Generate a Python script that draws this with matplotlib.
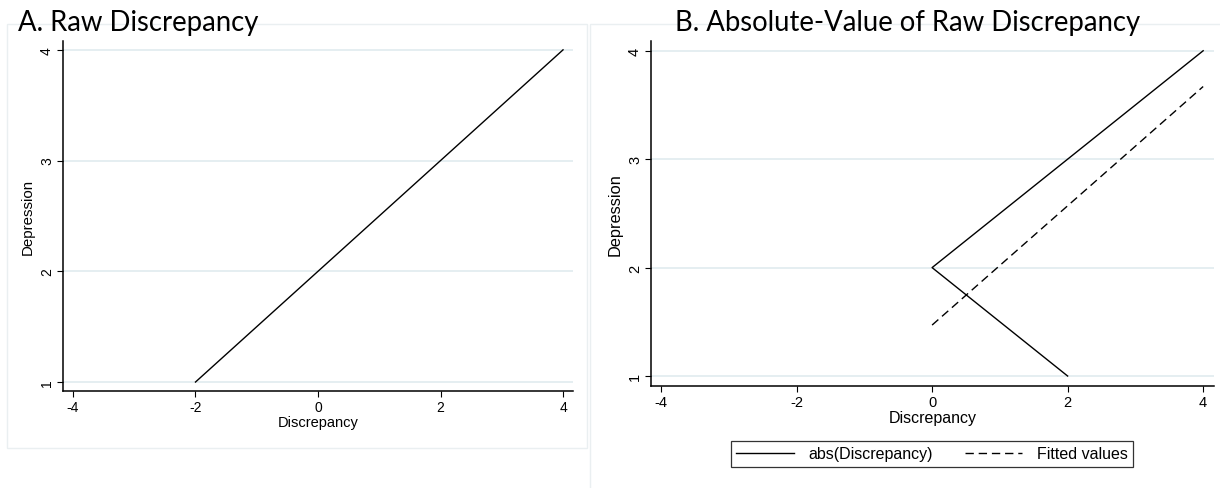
import matplotlib
matplotlib.use("Agg")
import matplotlib.pyplot as plt
from matplotlib.patches import Rectangle

# data
raw_x = [-2, 4]
raw_y = [1, 4]

abs_x = [2, 0, 4]          # abs(Discrepancy) for raw x = -2, 0, 4
abs_y = [1, 2, 4]
fit_x = [0, 4]
fit_y = [1.47, 3.67]

xticks = [-4, -2, 0, 2, 4]
yticks = [1, 2, 3, 4]

W, H = 1220, 489
plt.rcParams['font.family'] = ['Liberation Sans', 'DejaVu Sans']
fig = plt.figure(figsize=(W / 100, H / 100), dpi=100)

grid_col = '#e3edf0'
box_col = '#eaeff1'


def px_axes(l, t, r, b):
    return fig.add_axes([l / W, 1 - b / H, (r - l) / W, (b - t) / H])


def style(ax, xlim, ylim, fs_tick, fs_x, fs_y):
    ax.set_xlim(*xlim)
    ax.set_ylim(*ylim)
    ax.set_xticks(xticks)
    ax.set_yticks(yticks)
    ax.set_xticklabels([str(v) for v in xticks], fontsize=fs_tick)
    ax.set_yticklabels([str(v) for v in yticks], fontsize=fs_tick, rotation=90, va='center')
    for s in ['top', 'right']:
        ax.spines[s].set_visible(False)
    for s in ['left', 'bottom']:
        ax.spines[s].set_linewidth(1.1)
    ax.tick_params(direction='out', length=4.5, width=0.8, pad=2)
    ax.grid(axis='y', color=grid_col, lw=1.3)
    ax.set_axisbelow(True)
    ax.set_xlabel('Discrepancy', fontsize=fs_x, labelpad=1)
    ax.set_ylabel('Depression', fontsize=fs_y, labelpad=4)


# light panel frames
fig.patches.append(Rectangle((7 / W, 1 - 449 / H), 580 / W, 424 / H, transform=fig.transFigure,
                             fill=False, ec=box_col, lw=1))
fig.patches.append(Rectangle((590 / W, -0.01), 640 / W, 1 - 25 / H + 0.01, transform=fig.transFigure,
                             fill=False, ec=box_col, lw=1))

# panel A
ax1 = px_axes(63, 42, 573, 392)
style(ax1, (-4.163, 4.163), (0.919, 4.08), 10, 10.5, 10.8)
ax1.plot(raw_x, raw_y, color='black', lw=1)
fig.text(18 / W, 1 - 31 / H, 'A. Raw Discrepancy', fontsize=19.8, family='Lato', va='baseline', ha='left')

# panel B
ax2 = px_axes(651, 42, 1214, 387)
style(ax2, (-4.148, 4.16), (0.908, 4.09), 10.5, 11.5, 11.8)
l1, = ax2.plot(abs_x, abs_y, color='black', lw=1)
l2, = ax2.plot(fit_x, fit_y, color='black', lw=1, ls=(0, (6, 3.5)))
fig.text(908 / W, 1 - 31 / H, 'B. Absolute-Value of Raw Discrepancy', fontsize=19.8, family='Lato',
         va='baseline', ha='center')

leg = fig.legend([l1, l2], ['abs(Discrepancy)', 'Fitted values'], loc='center',
                 bbox_to_anchor=(932 / W, 1 - 455 / H), ncol=2, fontsize=11.5, frameon=True,
                 fancybox=False, handlelength=3.6, columnspacing=2.0, borderpad=0.35,
                 handletextpad=0.9, handleheight=0.6)
leg.get_frame().set_edgecolor('black')
leg.get_frame().set_linewidth(0.9)

fig.savefig('out.png', dpi=100)
